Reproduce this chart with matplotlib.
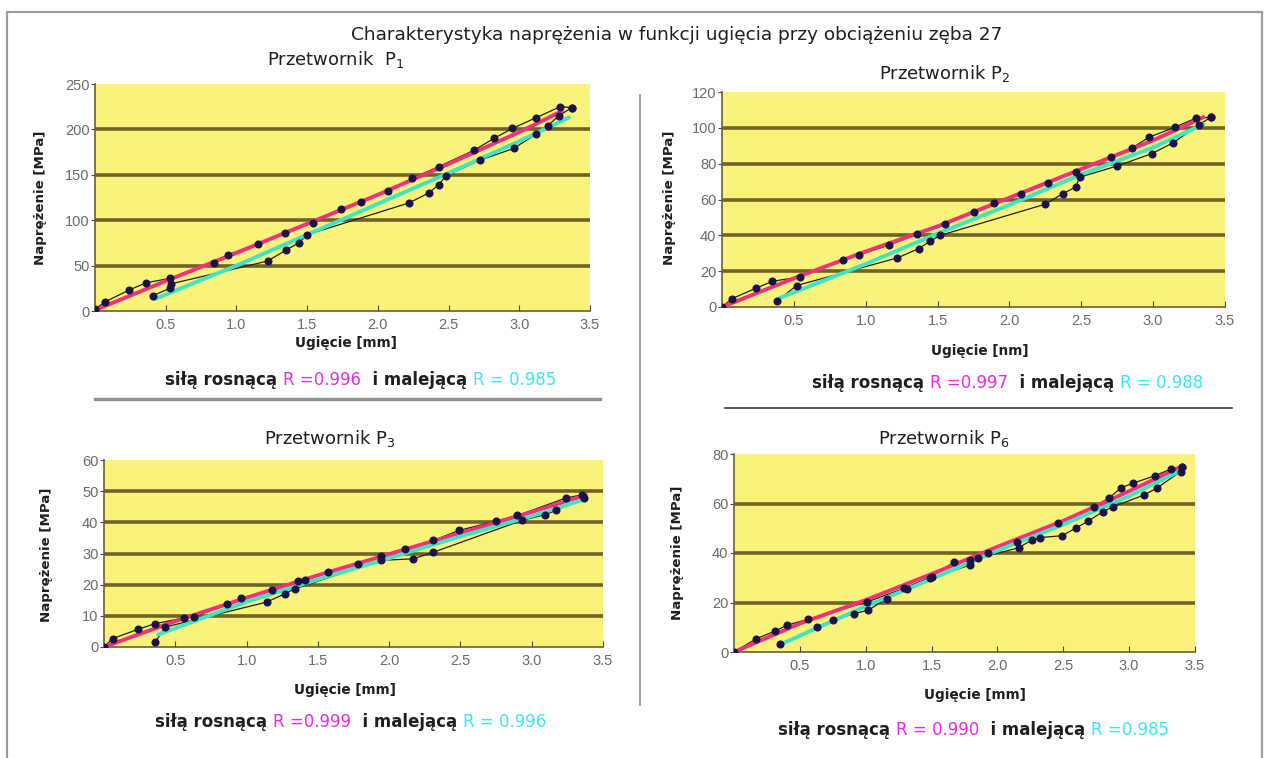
import numpy as np
import matplotlib
matplotlib.use("Agg")
import matplotlib.pyplot as plt
from matplotlib.patches import Rectangle
from matplotlib.lines import Line2D

plt.rcParams["font.family"] = ["DejaVu Sans"]
plt.rcParams["mathtext.fontset"] = "dejavusans"

W, H = 1269, 758

# ---- data ----
# Przetwornik P1
p1_x_up = [0, 0.07, 0.24, 0.36, 0.53, 0.84, 0.94, 1.15, 1.34, 1.54, 1.74, 1.88, 2.07,
           2.24, 2.43, 2.68, 2.82, 2.95, 3.12, 3.29, 3.37]
p1_y_up = [2, 10, 23, 31, 36, 53, 62, 74, 86, 97, 112, 120, 132, 146, 159, 177, 190,
           201, 213, 225, 224]
p1_x_dn = [3.37, 3.28, 3.20, 3.12, 2.96, 2.72, 2.48, 2.43, 2.36, 2.22, 1.50, 1.44,
           1.35, 1.22, 0.54, 0.53, 0.41]
p1_y_dn = [224, 215, 204, 195, 179, 166, 149, 139, 130, 119, 84, 75, 67, 55, 30, 25, 17]
p1_fit_up_x = [0, 0.5, 1.0, 1.5, 2.0, 2.5, 3.0, 3.3]
p1_fit_up_y = [1, 33, 64, 96, 128, 162, 197, 220]
p1_fit_dn_x = [0.42, 1.0, 1.5, 2.0, 2.5, 3.0, 3.35]
p1_fit_dn_y = [13, 50, 84, 118, 152, 187, 213]

# Przetwornik P2
p2_x_up = [0, 0.07, 0.24, 0.35, 0.54, 0.84, 0.95, 1.16, 1.36, 1.55, 1.75, 1.89, 2.08,
           2.27, 2.46, 2.71, 2.85, 2.97, 3.15, 3.30, 3.40]
p2_y_up = [0, 4.7, 10.6, 14.3, 16.8, 26, 29, 34.5, 40.6, 46.6, 52.8, 58, 63, 69, 75.5,
           83.5, 88.6, 94.7, 100.3, 105.5, 105.8]
p2_x_dn = [3.40, 3.32, 3.14, 2.99, 2.75, 2.49, 2.46, 2.37, 2.25, 1.52, 1.45, 1.37,
           1.22, 0.52, 0.38]
p2_y_dn = [105.8, 101.8, 91.7, 85.6, 78.7, 72.5, 66.9, 63.2, 57.4, 40, 36.9, 32.6,
           27.4, 12, 3.2]
p2_fit_up_x = [0, 0.5, 1.0, 1.5, 2.0, 2.5, 3.0, 3.35]
p2_fit_up_y = [0, 16, 31, 45, 61, 77, 93, 106]
p2_fit_dn_x = [0.4, 1.0, 1.5, 2.0, 2.5, 3.0, 3.35]
p2_fit_dn_y = [5, 24, 41, 57, 74, 89, 102]

# Przetwornik P3
p3_x_up = [0, 0.06, 0.24, 0.36, 0.56, 0.63, 0.86, 0.96, 1.18, 1.36, 1.41, 1.57, 1.78,
           1.94, 2.11, 2.31, 2.49, 2.75, 2.90, 3.24, 3.35]
p3_y_up = [0, 2.7, 5.7, 7.5, 9.3, 9.6, 13.7, 15.7, 18.2, 21.1, 21.4, 24.1, 26.7, 29.1,
           31.5, 34.2, 37.4, 40.4, 42.2, 47.8, 48.8]
p3_x_dn = [3.37, 3.17, 3.09, 2.93, 2.31, 2.17, 1.94, 1.34, 1.27, 1.14, 0.43, 0.36]
p3_y_dn = [47.9, 43.8, 42.4, 40.6, 30.4, 28.3, 27.8, 18.7, 17.1, 14.4, 6.4, 1.6]
p3_fit_up_x = [0, 0.5, 1.0, 1.5, 2.0, 2.5, 3.0, 3.38]
p3_fit_up_y = [0, 8.3, 15.8, 23, 29.8, 36.6, 43.3, 48.8]
p3_fit_dn_x = [0.38, 1.0, 1.5, 2.0, 2.5, 3.0, 3.38]
p3_fit_dn_y = [4, 14.5, 21.7, 28.5, 35.5, 42, 47.5]

# Przetwornik P6
p6_x_up = [0, 0.17, 0.31, 0.40, 0.56, 1.01, 1.29, 1.50, 1.67, 1.79, 1.93, 2.15, 2.46,
           2.73, 2.85, 2.94, 3.03, 3.20, 3.32, 3.40]
p6_y_up = [0, 5.4, 8.4, 10.8, 13.2, 20.2, 25.7, 30.4, 36.4, 37.1, 39.8, 44.5, 52, 58.7,
           62.3, 66.4, 68.2, 71.3, 74, 74.9]
p6_x_dn = [3.40, 3.39, 3.21, 3.11, 2.88, 2.80, 2.69, 2.60, 2.49, 2.32, 2.26, 2.16,
           1.85, 1.79, 1.49, 1.31, 1.16, 1.02, 0.91, 0.75, 0.63, 0.35]
p6_y_dn = [74.9, 72.9, 66.2, 63.4, 58.7, 56.7, 52.9, 50.2, 47, 46.2, 45.2, 42.1, 37.8,
           35.1, 29.7, 25.4, 21.6, 16.9, 15.5, 12.8, 10.1, 3.1]
p6_fit_up_x = [0, 0.5, 1.0, 1.5, 2.0, 2.5, 3.0, 3.4]
p6_fit_up_y = [0, 11.5, 21, 31.5, 42.5, 53, 65, 75]
p6_fit_dn_x = [0.35, 1.0, 1.5, 2.0, 2.5, 3.0, 3.38]
p6_fit_dn_y = [3, 18.5, 29.5, 41, 51.5, 63, 73]

x_ticks = [0.5, 1.0, 1.5, 2.0, 2.5, 3.0, 3.5]
x_tick_labels = ["0.5", "1.0", "1.5", "2.0", "2.5", "3.0", "3.5"]

YELLOW = "#F9F27B"
GRID = "#6E6428"
PINK = "#F2307C"
CYAN = "#3FE3C6"
MAGENTA_TXT = "#E82CE0"
CYAN_TXT = "#3CE6F2"
DOT = "#1C1248"
INK = "#1E1E1E"


def px_box(left, right, top, bottom):
    return [left / W, 1 - bottom / H, (right - left) / W, (bottom - top) / H]


def draw_panel(fig, box, ymax, ystep, xu, yu, xd, yd, fux, fuy, fdx, fdy):
    ax = fig.add_axes(box)
    ax.set_facecolor(YELLOW)
    ax.set_xlim(0, 3.5)
    ax.set_ylim(0, ymax)
    yt = list(range(0, ymax + 1, ystep))
    for v in yt[1:-1]:
        ax.axhline(v, color=GRID, lw=2.6, zorder=1)
    ax.plot(xu, yu, color="#202020", lw=0.9, zorder=2)
    ax.plot(xd, yd, color="#202020", lw=0.9, zorder=2)
    ax.plot(fux, fuy, color=PINK, lw=2.8, zorder=3, solid_capstyle="round")
    ax.plot(fdx, fdy, color=CYAN, lw=2.8, zorder=3, solid_capstyle="round")
    ax.plot(xu, yu, "o", color=DOT, ms=4.8, zorder=4)
    ax.plot(xd, yd, "o", color=DOT, ms=4.8, zorder=4)
    ax.set_xticks(x_ticks)
    ax.set_xticklabels(x_tick_labels)
    ax.set_yticks(yt)
    ax.set_yticklabels([str(v) for v in yt])
    for s in ["top", "right"]:
        ax.spines[s].set_visible(False)
    for s in ["left", "bottom"]:
        ax.spines[s].set_color("#6A6030")
        ax.spines[s].set_linewidth(1.2)
    ax.tick_params(axis="x", direction="in", length=4, color="#444444", pad=5,
                   labelsize=10.5, labelcolor="#6A6A6A")
    ax.tick_params(axis="y", direction="out", length=3, color="#444444", pad=1,
                   labelsize=10.5, labelcolor="#6A6A6A")
    for lab in ax.get_xticklabels() + ax.get_yticklabels():
        lab.set_family(["Liberation Sans Narrow", "Liberation Sans"])
    return ax


def colored_line(fig, ax, x, y, parts, size=12):
    # pieces of one line of text in different colours, placed one after another
    prev = fig.text(x / W, 1 - y / H, parts[0][0], color=parts[0][1],
                    fontweight=parts[0][2], fontsize=size, ha="left", va="center")
    for text, color, weight in parts[1:]:
        prev = ax.annotate(text, xy=(1, 0), xycoords=prev, color=color,
                           fontweight=weight, fontsize=size, ha="left",
                           va="bottom", annotation_clip=False)
    return prev


fig = plt.figure(figsize=(W / 100, H / 100), dpi=100)
fig.patch.set_facecolor("white")

# outer frame
fig.patches.append(Rectangle((7 / W, -0.05), (1262 - 7) / W, 1.05 - 12 / H,
                             transform=fig.transFigure, fill=False,
                             edgecolor="#9C9C9C", lw=1.6))

fig.text(677 / W, 1 - 35 / H,
         "Charakterystyka naprężenia w funkcji ugięcia przy obciążeniu zęba 27",
         ha="center", va="center", fontsize=13.3, color=INK)

ax1 = draw_panel(fig, px_box(95, 590, 84, 311), 250, 50,
                 p1_x_up, p1_y_up, p1_x_dn, p1_y_dn,
                 p1_fit_up_x, p1_fit_up_y, p1_fit_dn_x, p1_fit_dn_y)
ax2 = draw_panel(fig, px_box(722, 1225, 92, 307), 120, 20,
                 p2_x_up, p2_y_up, p2_x_dn, p2_y_dn,
                 p2_fit_up_x, p2_fit_up_y, p2_fit_dn_x, p2_fit_dn_y)
ax3 = draw_panel(fig, px_box(104, 603, 460, 647), 60, 10,
                 p3_x_up, p3_y_up, p3_x_dn, p3_y_dn,
                 p3_fit_up_x, p3_fit_up_y, p3_fit_dn_x, p3_fit_dn_y)
ax4 = draw_panel(fig, px_box(734, 1195, 454, 652), 80, 20,
                 p6_x_up, p6_y_up, p6_x_dn, p6_y_dn,
                 p6_fit_up_x, p6_fit_up_y, p6_fit_dn_x, p6_fit_dn_y)

titles = [("Przetwornik  $\\mathrm{P}_1$", 336, 60),
          ("Przetwornik $\\mathrm{P}_2$", 945, 73),
          ("Przetwornik $\\mathrm{P}_3$", 330, 438),
          ("Przetwornik $\\mathrm{P}_6$", 944, 438)]
for txt, x, y in titles:
    fig.text(x / W, 1 - y / H, txt, ha="center", va="center", fontsize=13,
             color=INK)

xlabels = [("Ugięcie [mm]", 346, 343), ("Ugięcie [nm]", 980, 351),
           ("Ugięcie [mm]", 345, 690), ("Ugięcie [mm]", 975, 695)]
for txt, x, y in xlabels:
    fig.text(x / W, 1 - y / H, txt, ha="center", va="center", fontsize=9.8,
             fontweight="bold", color=INK)

ylabels = [(41, 198), (670, 198), (47, 555), (677, 553)]
for x, y in ylabels:
    fig.text(x / W, 1 - y / H, "Naprężenie [MPa]", ha="center", va="center",
             rotation=90, fontsize=9.6, fontweight="bold", color=INK)

notes = [(ax1, 165, 380, "R =0.996", "R = 0.985"),
         (ax2, 812, 383, "R =0.997", "R = 0.988"),
         (ax3, 155, 722, "R =0.999", "R = 0.996"),
         (ax4, 778, 730, "R = 0.990", "R =0.985")]
for ax, x, y, r1, r2 in notes:
    colored_line(fig, ax, x, y, [("siłą rosnącą ", INK, "bold"),
                                 (r1, MAGENTA_TXT, "normal"),
                                 ("  i malejącą ", INK, "bold"),
                                 (r2, CYAN_TXT, "normal")])

# separators
fig.add_artist(Line2D([95 / W, 600 / W], [1 - 399 / H, 1 - 399 / H],
                      color="#8E8E8E", lw=2.4))
fig.add_artist(Line2D([725 / W, 1232 / W], [1 - 408 / H, 1 - 408 / H],
                      color="#3A3A3A", lw=1.2))
fig.add_artist(Line2D([640 / W, 640 / W], [1 - 95 / H, 1 - 705 / H],
                      color="#8E8E8E", lw=1.2))

fig.savefig("out.png", dpi=100, facecolor="white")
